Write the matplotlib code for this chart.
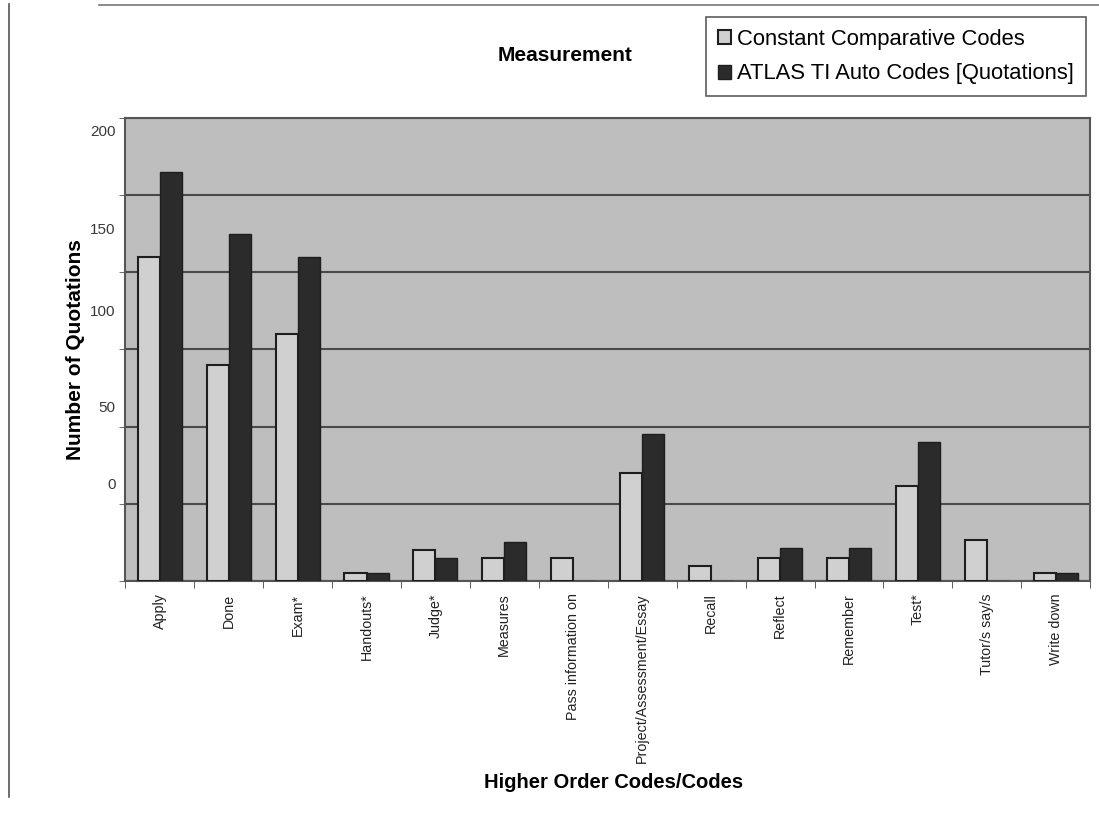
import numpy as np
import matplotlib
matplotlib.use("Agg")
import matplotlib.pyplot as plt
from matplotlib.lines import Line2D

plt.rcParams['font.family'] = ['Liberation Sans', 'DejaVu Sans']

# Datos
codigos = ["Apply", "Done", "Exam*", "Handouts*", "Judge*", "Measures",
           "Pass information on", "Project/Assessment/Essay", "Recall",
           "Reflect", "Remember", "Test*", "Tutor/s say/s", "Write down"]
constant_comp = [126, 84, 96, 3, 12, 9, 9, 42, 6, 9, 9, 37, 16, 3]
atlas_auto = [159, 135, 126, 3, 9, 15, 0, 57, 0, 13, 13, 54, 0, 3]
y_labels = ["0", "50", "100", "150", "200"]

fig = plt.figure(figsize=(10.99, 8.13), dpi=100)
fig.patch.set_facecolor("white")
ax = fig.add_axes([0.114, 0.2854, 0.878, 0.5696])
ax.set_facecolor("#bebebe")

x = np.arange(len(codigos))
ancho = 0.32
ax.bar(x - 0.16, constant_comp, ancho, color="#d0d0d0", edgecolor="#1e1e1e",
       linewidth=1.5, label="Constant Comparative Codes", zorder=3)
ax.bar(x + 0.16, atlas_auto, ancho, color="#2b2b2b", edgecolor="#1e1e1e",
       linewidth=1.0, label="ATLAS TI Auto Codes [Quotations]", zorder=3)

ax.set_xlim(-0.5, len(codigos) - 0.5)
ax.set_ylim(0, 180)

# Lineas de la grilla cada 30
ax.set_yticks(np.arange(0, 181, 30), minor=True)
ax.grid(which="minor", axis="y", color="#4a4a4a", linewidth=1.5, zorder=1)
ax.tick_params(axis="y", which="minor", length=4, color="#555555")

# Etiquetas del eje y (desplazadas como en el escaneo)
ax.set_yticks([38, 68, 105, 137, 175], y_labels)
ax.tick_params(axis="y", which="major", length=0, labelsize=11,
               labelcolor="#3a3a3a", pad=7)

ax.set_xticks(x, codigos, rotation=90, fontsize=10.3)
ax.set_xticks(np.arange(-0.5, len(codigos)), minor=True)
ax.tick_params(axis="x", which="major", length=0, pad=9, labelcolor="#222222")
ax.tick_params(axis="x", which="minor", length=5, color="#444444")

for s in ax.spines.values():
    s.set_color("#555555")
    s.set_linewidth(1.5)

ax.set_ylabel("Number of Quotations", fontsize=15, fontweight="bold", labelpad=4)
fig.text(0.558, 0.038, "Higher Order Codes/Codes", fontsize=14.5, fontweight="bold",
         ha="center", va="center")
fig.text(0.514, 0.932, "Measurement", fontsize=15, fontweight="bold",
         ha="center", va="center")

leg = fig.legend(loc="upper right", bbox_to_anchor=(0.988, 0.979), fontsize=15.8,
                 frameon=True, fancybox=False, edgecolor="#333333",
                 handlelength=0.6, handleheight=0.6, handletextpad=0.25,
                 borderpad=0.55, labelspacing=0.6, borderaxespad=0)
leg.get_frame().set_linewidth(1.2)

# Marco exterior del escaneo
fig.add_artist(Line2D([0.008, 0.008], [0.02, 0.995], color="#555555", lw=1.2))
fig.add_artist(Line2D([0.09, 1.0], [0.994, 0.994], color="#777777", lw=1.2))

fig.savefig("out.png", dpi=100)
